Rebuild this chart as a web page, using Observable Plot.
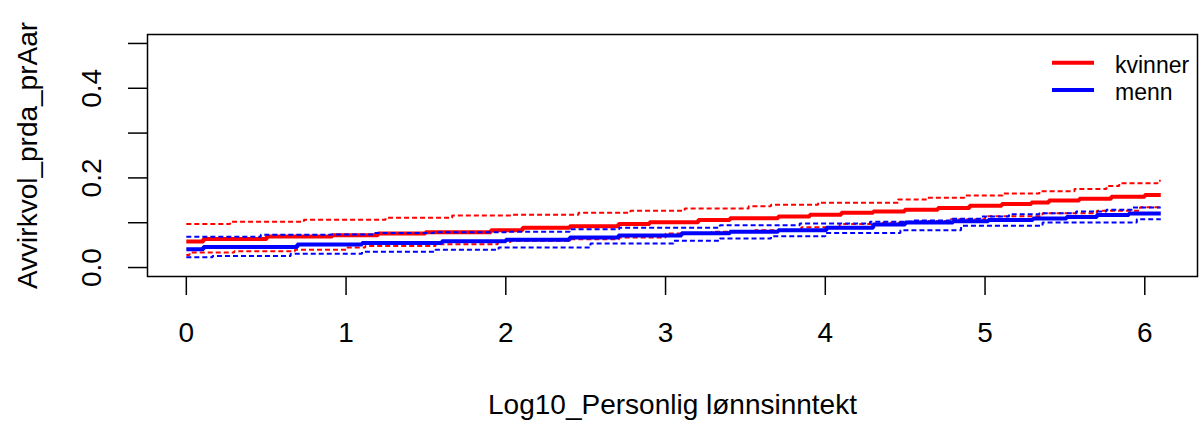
<!DOCTYPE html>
<html><head><meta charset="utf-8">
<script src="https://cdn.jsdelivr.net/npm/d3@7"></script>
<script src="https://cdn.jsdelivr.net/npm/@observablehq/plot@0.6"></script>
<style>
body{margin:0;background:#fff;}
#wrap{position:relative;width:1203px;height:423px;font-family:"Liberation Sans",Arial,sans-serif;}
#legend{position:absolute;left:0;top:0;pointer-events:none;}
</style></head><body><div id="wrap"></div>
<script>
// x axis ticks and y axis ticks
const xTicks = [0, 1, 2, 3, 4, 5, 6];
const yTicks = [0, 0.1, 0.2, 0.3, 0.4, 0.5];
const yLabelTicks = [0, 0.2, 0.4];
const xTitle = "Log10_Personlig lønnsinntekt";
const yTitle = "Avvirkvol_prda_prAar";
const legendNames = ["kvinner", "menn"];
const legendColors = ["#ff0000", "#0000ff"];

// kvinner: estimate
const kvinnerX   = [0, 0.107, 0.503, 0.914, 1.2, 1.497, 1.907, 2.105, 2.40, 2.705, 2.90, 3.205, 3.403, 3.705, 3.903, 4.10, 4.30, 4.497, 4.705, 4.903, 5.105, 5.29, 5.40, 5.59, 5.79, 6.0, 6.1];
const kvinnerEst = [0.058, 0.0634, 0.069, 0.0723, 0.076, 0.079, 0.083, 0.0886, 0.092, 0.097, 0.101, 0.1058, 0.110, 0.114, 0.118, 0.1225, 0.125, 0.129, 0.133, 0.138, 0.142, 0.145, 0.1496, 0.1533, 0.158, 0.162, 0.162];
// kvinner: upper band
const kvinnerUpX = [0, 0.274, 0.736, 1.247, 1.664, 2.045, 2.455, 2.78, 3.12, 3.52, 3.66, 3.955, 4.455, 4.64, 4.87, 5.11, 5.34, 5.56, 5.76, 5.84, 6.08, 6.1];
const kvinnerUp  = [0.097, 0.102, 0.1065, 0.111, 0.116, 0.1176, 0.122, 0.1266, 0.132, 0.137, 0.140, 0.1445, 0.152, 0.156, 0.1607, 0.165, 0.17, 0.175, 0.182, 0.188, 0.1935, 0.1935];
// kvinner: lower band
const kvinnerLoX = [0, 0.02, 0.30, 0.68, 1.0, 1.12, 1.56, 1.95, 2.03, 2.40, 2.71, 3.0, 3.29, 3.56, 3.85, 4.09, 4.36, 4.6, 4.78, 5.0, 5.36, 5.70, 5.97, 6.1];
const kvinnerLo  = [0.0277, 0.0335, 0.0366, 0.0395, 0.0446, 0.048, 0.052, 0.057, 0.0596, 0.0633, 0.067, 0.076, 0.0797, 0.0834, 0.090, 0.097, 0.100, 0.104, 0.108, 0.1145, 0.121, 0.1265, 0.1345, 0.1345];

// menn: estimate
const mennX   = [0, 0.107, 0.695, 1.10, 1.60, 2.0, 2.40, 2.705, 3.10, 3.403, 3.705, 4.007, 4.30, 4.50, 4.80, 5.02, 5.30, 5.51, 5.70, 5.90, 6.1];
const mennEst = [0.041, 0.046, 0.0514, 0.055, 0.0585, 0.062, 0.067, 0.0714, 0.0767, 0.0797, 0.0834, 0.089, 0.096, 0.1005, 0.1035, 0.106, 0.1094, 0.1125, 0.117, 0.1205, 0.1205];
// menn: upper band
const mennUpX = [0, 0.466, 0.90, 1.17, 1.55, 2.0, 2.40, 2.71, 3.34, 3.84, 4.28, 4.55, 4.78, 4.97, 5.15, 5.34, 5.57, 5.76, 5.92, 6.1];
const mennUp  = [0.0685, 0.073, 0.0735, 0.077, 0.079, 0.080, 0.0857, 0.089, 0.0946, 0.098, 0.102, 0.105, 0.109, 0.114, 0.119, 0.121, 0.125, 0.1288, 0.134, 0.134];
// menn: lower band
const mennLoX = [0, 0.164, 0.653, 1.10, 1.56, 1.955, 2.53, 3.05, 3.34, 3.66, 4.0, 4.47, 4.85, 5.36, 5.95, 6.1];
const mennLo  = [0.023, 0.026, 0.031, 0.035, 0.0395, 0.0446, 0.0536, 0.0596, 0.065, 0.070, 0.077, 0.083, 0.093, 0.1005, 0.108, 0.108];

const series = [
  {xs: kvinnerX,   ys: kvinnerEst, color: legendColors[0], solid: true},
  {xs: kvinnerUpX, ys: kvinnerUp,  color: legendColors[0], solid: false},
  {xs: kvinnerLoX, ys: kvinnerLo,  color: legendColors[0], solid: false},
  {xs: mennX,      ys: mennEst,    color: legendColors[1], solid: true},
  {xs: mennUpX,    ys: mennUp,     color: legendColors[1], solid: false},
  {xs: mennLoX,    ys: mennLo,     color: legendColors[1], solid: false}
];

const lineMarks = series.map(s => Plot.line(s.xs.map((x, i) => ({x, y: s.ys[i]})), {
  x: "x", y: "y", curve: "step-after", stroke: s.color,
  strokeWidth: s.solid ? 4 : 2,
  strokeDasharray: s.solid ? null : "5,3",
  strokeLinecap: "butt", strokeLinejoin: "miter"
}));

const chart = Plot.plot({
  width: 1203, height: 423,
  marginLeft: 147, marginRight: 6, marginTop: 34, marginBottom: 147,
  x: {domain: [-0.243, 6.33]},
  y: {domain: [-0.02, 0.52]},
  style: {fontFamily: "'Liberation Sans', Arial, sans-serif", fontSize: "28px", background: "#fff", color: "#000", overflow: "visible"},
  marks: [
    ...lineMarks,
    Plot.frame({stroke: "#000", strokeWidth: 1.5}),
    Plot.axisX({ticks: xTicks, tickFormat: d => String(d), tickSize: 19, tickPadding: 27, strokeWidth: 1.5,
      label: xTitle, labelAnchor: "center", labelOffset: 137, labelArrow: "none"}),
    // y tick marks (no text)
    Plot.axisY({ticks: yTicks, tickFormat: () => "", tickSize: 19, strokeWidth: 1.5, label: null}),
    // y tick labels, parallel to the axis
    Plot.axisY({ticks: yLabelTicks, tickFormat: d => d.toFixed(1), tickSize: 0, tickPadding: 47,
      rotate: -90, textAnchor: "middle", lineAnchor: "bottom",
      label: yTitle, labelAnchor: "center", labelOffset: 130, labelArrow: "none"})
  ]
});
const wrap = document.getElementById("wrap");
wrap.appendChild(chart);

// legend (top-right inside the plot area)
const ns = "http://www.w3.org/2000/svg";
const lg = document.createElementNS(ns, "svg");
lg.setAttribute("id", "legend");
lg.setAttribute("width", 1203); lg.setAttribute("height", 423);
legendNames.forEach((name, i) => {
  const yy = 62.7 + i * 27.3;
  const l = document.createElementNS(ns, "line");
  l.setAttribute("x1", 1052); l.setAttribute("x2", 1094);
  l.setAttribute("y1", yy); l.setAttribute("y2", yy);
  l.setAttribute("stroke", legendColors[i]); l.setAttribute("stroke-width", 4);
  lg.appendChild(l);
  const t = document.createElementNS(ns, "text");
  t.setAttribute("x", 1115); t.setAttribute("y", yy + 10.3);
  t.setAttribute("font-size", 23);
  t.setAttribute("font-family", "'Liberation Sans', Arial, sans-serif");
  t.setAttribute("fill", "#000");
  t.textContent = name;
  lg.appendChild(t);
});
wrap.appendChild(lg);
</script></body></html>
